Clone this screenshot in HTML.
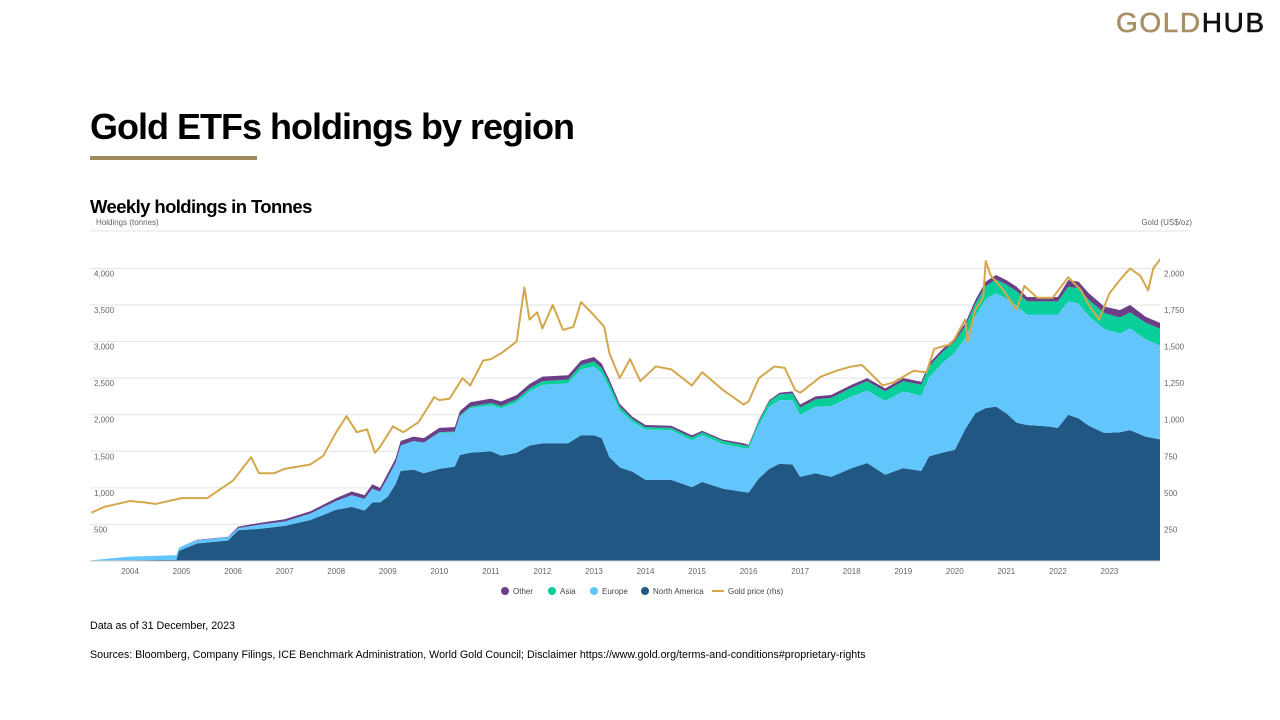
<!DOCTYPE html>
<html><head><meta charset="utf-8"><style>
body{margin:0;width:1280px;height:720px;background:#fff;font-family:"Liberation Sans",Arial,sans-serif;position:relative;overflow:hidden}
.logo{position:absolute;left:1116px;top:7px;font-size:28px;letter-spacing:1.6px;font-weight:400;-webkit-text-stroke:0.6px currentColor}
.logo .g{color:#a89065}.logo .h{color:#111}
h1{position:absolute;left:90px;top:106px;margin:0;font-size:36px;font-weight:bold;letter-spacing:-1.0px;color:#000}
.bar{position:absolute;left:90px;top:156px;width:167px;height:4px;background:#a08a5c}
h2{position:absolute;left:90px;top:196px;margin:0;font-size:18.5px;font-weight:bold;letter-spacing:-0.6px}
.note{position:absolute;left:90px;font-size:10.7px;color:#000}
svg{position:absolute;left:0;top:0}
</style></head><body>
<div class="logo"><span class="g">GOLD</span><span class="h">HUB</span></div>
<h1>Gold ETFs holdings by region</h1>
<div class="bar"></div>
<h2>Weekly holdings in Tonnes</h2>
<div class="note" style="top:620px">Data as of 31 December, 2023</div>
<div class="note" style="top:649px">Sources: Bloomberg, Company Filings, ICE Benchmark Administration, World Gold Council; Disclaimer https://www.gold.org/terms-and-conditions#proprietary-rights</div>
<svg id="chart" width="1280" height="720"></svg>
<script>
const years=[2003.25,2004.0,2004.9,2004.95,2005.3,2005.9,2006.1,2006.5,2007.0,2007.5,2008.0,2008.3,2008.55,2008.7,2008.85,2009.0,2009.15,2009.25,2009.5,2009.7,2010.0,2010.3,2010.4,2010.6,2011.0,2011.2,2011.5,2011.75,2012.0,2012.5,2012.75,2013.0,2013.15,2013.3,2013.5,2013.75,2014.0,2014.5,2014.9,2015.1,2015.5,2015.9,2016.0,2016.2,2016.4,2016.6,2016.85,2017.0,2017.3,2017.6,2018.0,2018.3,2018.65,2019.0,2019.35,2019.5,2019.75,2020.0,2020.2,2020.4,2020.6,2020.8,2021.0,2021.2,2021.4,2021.8,2022.0,2022.2,2022.4,2022.6,2022.9,2023.2,2023.4,2023.7,2024.0];
const northAmerica=[5,10,15,140,240,280,420,440,480,560,700,740,690,800,800,880,1050,1230,1250,1200,1260,1290,1450,1480,1500,1440,1480,1580,1610,1610,1720,1720,1680,1420,1280,1220,1110,1110,1010,1080,990,945,935,1130,1260,1330,1320,1150,1200,1150,1270,1340,1180,1270,1230,1430,1480,1520,1800,2020,2090,2110,2020,1890,1860,1840,1820,2000,1950,1850,1750,1760,1790,1700,1660];
const europe=[5,50,65,45,45,45,30,55,60,90,120,160,160,190,150,260,290,350,390,420,490,470,530,610,630,650,690,740,800,820,900,940,890,940,780,680,690,680,640,640,610,600,600,730,850,870,880,850,910,970,980,990,1010,1050,1030,1080,1220,1330,1250,1330,1490,1550,1570,1600,1510,1530,1550,1550,1570,1500,1420,1350,1390,1330,1280];
const asia=[0,0,0,0,0,0,0,0,0,0,0,0,0,0,0,0,0,0,0,0,10,10,10,20,30,30,40,40,50,50,60,70,70,70,50,40,30,30,40,40,40,40,40,50,70,80,90,100,100,110,120,130,130,140,150,150,150,150,160,170,180,190,190,200,180,180,180,200,210,220,220,220,220,230,230];
const other=[0,0,0,0,5,5,20,25,30,30,40,50,50,60,50,60,60,60,60,60,60,60,60,60,60,60,60,60,60,60,60,60,60,50,40,30,30,30,30,20,20,25,15,20,20,20,30,40,40,40,40,40,40,40,40,40,40,45,40,50,60,60,60,60,60,60,60,90,90,90,90,100,100,80,80];
const goldYears=[2003.25,2003.5,2004.0,2004.3,2004.5,2005.0,2005.5,2006.0,2006.35,2006.5,2006.8,2007.0,2007.5,2007.75,2008.0,2008.2,2008.4,2008.6,2008.75,2008.85,2009.1,2009.3,2009.6,2009.9,2010.0,2010.2,2010.45,2010.6,2010.85,2011.0,2011.2,2011.5,2011.65,2011.75,2011.9,2012.0,2012.2,2012.4,2012.6,2012.75,2013.0,2013.2,2013.3,2013.5,2013.7,2013.9,2014.2,2014.5,2014.9,2015.1,2015.5,2015.9,2016.0,2016.2,2016.5,2016.7,2016.9,2017.0,2017.4,2017.7,2018.0,2018.2,2018.6,2018.8,2019.2,2019.45,2019.6,2019.9,2020.0,2020.2,2020.25,2020.4,2020.55,2020.6,2020.7,2020.9,2021.2,2021.35,2021.6,2021.9,2022.2,2022.45,2022.6,2022.8,2023.0,2023.2,2023.4,2023.6,2023.75,2023.85,2024.0];
const goldPrice=[330,370,410,400,390,430,430,550,710,600,600,630,660,720,880,990,880,900,740,780,920,880,950,1120,1100,1110,1250,1200,1370,1380,1420,1500,1870,1650,1700,1590,1750,1580,1600,1770,1680,1600,1420,1250,1380,1230,1330,1310,1200,1290,1170,1070,1090,1250,1330,1320,1170,1150,1260,1300,1330,1340,1200,1220,1300,1290,1450,1480,1520,1650,1500,1720,1800,2050,1950,1870,1720,1880,1800,1800,1940,1850,1750,1650,1830,1920,2000,1950,1850,2000,2070];
const leftTicks=[500,1000,1500,2000,2500,3000,3500,4000];
const rightTicks=[250,500,750,1000,1250,1500,1750,2000];
const xTicks=[2004,2005,2006,2007,2008,2009,2010,2011,2012,2013,2014,2015,2016,2017,2018,2019,2020,2021,2022,2023];

const NS='http://www.w3.org/2000/svg',svg=document.getElementById('chart');
const X0=90,X1=1160,Y0=561;
const x=y=>130+(y-2004)*51.55;
const yL=v=>Y0-v*36.57/500;
const yR=v=>Y0-v*36.57/250;
function mk(t,a,p){const e=document.createElementNS(NS,t);for(const k in a)e.setAttribute(k,a[k]);(p||svg).appendChild(e);return e;}
const defs=mk('defs',{});const cp=mk('clipPath',{id:'c'},defs);mk('rect',{x:X0,y:228,width:X1-X0,height:Y0-228},cp);
const tf='font-family:"Liberation Sans",Arial,sans-serif;font-size:8px;fill:#666';
const t1=mk('text',{x:96,y:225,style:tf});t1.textContent='Holdings (tonnes)';


const t2=mk('text',{x:1192,y:225,'text-anchor':'end',style:tf});t2.textContent='Gold (US$/oz)';


mk('line',{x1:X0,x2:1190,y1:231,y2:231,stroke:'#e3e3e3'});
leftTicks.forEach(v=>{const g=mk('line',{x1:X0,x2:X1,y1:yL(v),y2:yL(v),stroke:'#e3e3e3'});


const t=mk('text',{x:94,y:yL(v)+8,style:tf});t.textContent=v.toLocaleString('en-US');

});
rightTicks.forEach(v=>{const t=mk('text',{x:1164,y:yR(v)+8,style:tf});t.textContent=v.toLocaleString('en-US');

});
xTicks.forEach(v=>{const t=mk('text',{x:x(v),y:574,'text-anchor':'middle',style:tf});t.textContent=v;

});
const g=mk('g',{'clip-path':'url(#c)'});
const series=[['north-america-area',northAmerica,'#215783'],['europe-area',europe,'#62c6fd'],['asia-area',asia,'#08cf99'],['other-area',other,'#6a3f88']];
let base=years.map(()=>0);
series.forEach(([nm,arr,col])=>{
  const top=base.map((b,i)=>b+arr[i]);
  let d='M'+years.map((yr,i)=>x(yr)+','+yL(top[i])).join('L');
  for(let i=years.length-1;i>=0;i--)d+='L'+x(years[i])+','+yL(base[i]);
  const p=mk('path',{d:d+'Z',fill:col},g);
  
  
  base=top;});
const gl=mk('path',{d:'M'+goldYears.map((yr,i)=>x(yr)+','+yR(goldPrice[i])).join('L'),fill:'none',stroke:'#d4a74c','stroke-width':2,'stroke-linejoin':'round'},g);


mk('line',{x1:X0,x2:X1,y1:Y0,y2:Y0,stroke:'#ccc'});
const leg=[['Other','#6a3f88',501],['Asia','#08cf99',548],['Europe','#62c6fd',590],['North America','#215783',641]];
leg.forEach(([n,c,lx])=>{const gg=mk('g',{});


mk('circle',{cx:lx+4,cy:591,r:4,fill:c},gg);const t=mk('text',{x:lx+12,y:594,style:tf.replace('#666','#444')},gg);t.textContent=n;});
const lg=mk('g',{});


mk('line',{x1:712,x2:724,y1:591,y2:591,stroke:'#d4a74c','stroke-width':2},lg);
const lt=mk('text',{x:728,y:594,style:tf.replace('#666','#444')},lg);lt.textContent='Gold price (rhs)';
</script>
</body></html>
